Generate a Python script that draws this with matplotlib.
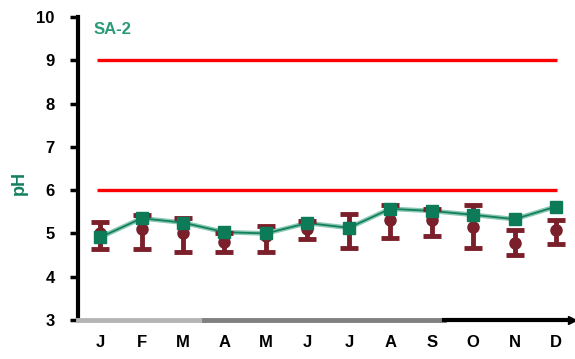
import matplotlib
matplotlib.use("Agg")
import matplotlib.pyplot as plt
import numpy as np

months = ["J", "F", "M", "A", "M", "J", "J", "A", "S", "O", "N", "D"]
green_vals = [4.91, 5.35, 5.25, 5.03, 5.00, 5.24, 5.13, 5.57, 5.52, 5.43, 5.33, 5.62]
red_vals = [5.00, 5.10, 5.00, 4.81, 4.94, 5.11, 5.16, 5.31, 5.31, 5.16, 4.77, 5.08]
red_top = [5.26, 5.43, 5.35, 5.00, 5.17, 5.28, 5.44, 5.66, 5.57, 5.66, 5.08, 5.31]
red_bot = [4.64, 4.64, 4.56, 4.58, 4.56, 4.88, 4.66, 4.89, 4.95, 4.66, 4.50, 4.75]
limits = [6, 9]
yticks = [3, 4, 5, 6, 7, 8, 9, 10]

plt.rcParams['font.family'] = ['Liberation Sans', 'DejaVu Sans']

fig = plt.figure(figsize=(5.75, 3.59), dpi=100)
ax = fig.add_axes([0.136, 0.1086, 0.862, 0.844])

x = np.arange(len(months))
ax.hlines(limits, -0.07, 11.02, colors="#ff0000", linewidth=2.4, zorder=1)

ax.plot(x, green_vals, color="#8cc9b3", linewidth=3.4, zorder=2)
ax.plot(x, green_vals, color="#13805f", linewidth=1.3, zorder=3)

rv = np.array(red_vals)
yerr = np.vstack([rv - np.array(red_bot), np.array(red_top) - rv])
ax.errorbar(x, rv, yerr=yerr, fmt="o", color="#7b1f2a", ecolor="#7b1f2a",
            markersize=8, elinewidth=3.5, capsize=6.5, capthick=3.5, zorder=4)
ax.plot(x, green_vals, "s", color="#0d7a58", markersize=8, zorder=5)

ax.set_xlim(-0.53, 11.43)
ax.set_ylim(3, 10)
ax.set_yticks(yticks)
ax.set_yticklabels([str(v) for v in yticks], fontsize=12, fontweight="bold")
ax.set_xticks(x)
ax.set_xticklabels(months, fontsize=12, fontweight="bold")
ax.tick_params(axis="y", direction="out", length=6, width=2.5, pad=11)
ax.tick_params(axis="x", length=0, pad=11)

for s in ["top", "right", "bottom"]:
    ax.spines[s].set_visible(False)
ax.spines["left"].set_linewidth(3)

# bottom axis with graded colors
ax.plot([-0.53, 2.5], [3, 3], color="#b5b5b5", linewidth=3.5, clip_on=False, zorder=6)
ax.plot([2.5, 8.3], [3, 3], color="#808080", linewidth=3.5, clip_on=False, zorder=6)
ax.plot([8.3, 11.35], [3, 3], color="#000000", linewidth=3, clip_on=False, zorder=6)
ax.plot([11.38], [3], marker=">", color="black", markersize=6, clip_on=False, zorder=7)

ax.set_ylabel("pH", color="#13805f", fontsize=13, fontweight="bold")
ax.yaxis.set_label_coords(-0.102, 0.452)
ax.text(0.03, 0.985, "SA-2", transform=ax.transAxes, color="#2a9a78",
        fontsize=12, fontweight="bold", va="top", ha="left")

fig.savefig("out.png", dpi=100)
